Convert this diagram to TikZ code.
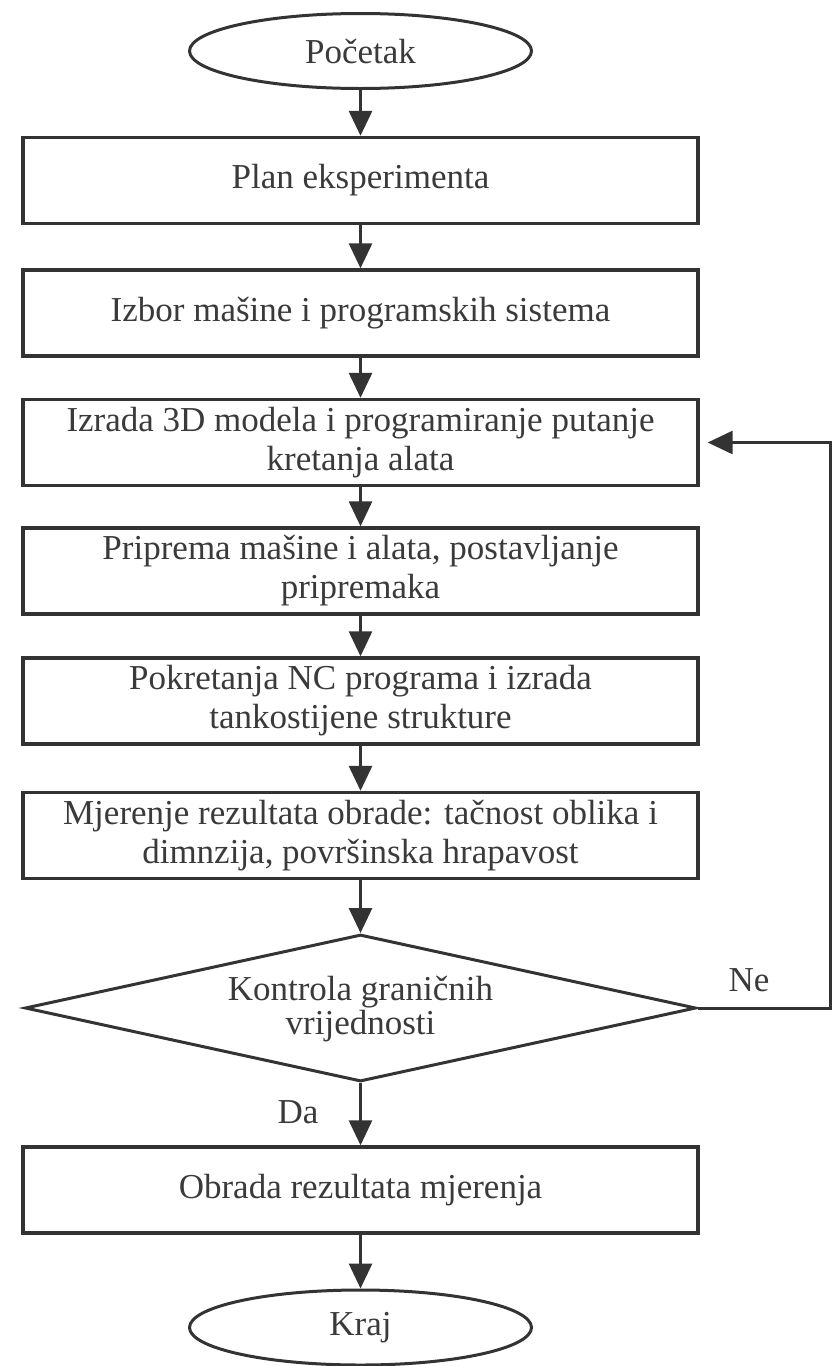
\documentclass[tikz,border=0pt]{standalone}
\usepackage{fontspec}
\setmainfont{Liberation Serif}
\usetikzlibrary{shapes.geometric,arrows.meta}
\definecolor{ln}{HTML}{333333}
\definecolor{tx}{HTML}{3A3A3A}
\begin{document}
\begin{tikzpicture}[x=0.5pt,y=-0.5pt,
  every node/.style={text=tx,font=\fontsize{17.5}{19.5}\selectfont},
  procbox/.style={draw=ln,line width=1.7pt,rectangle,minimum width=337.5pt,minimum height=43pt,inner sep=0pt,align=center},
  term/.style={draw=ln,line width=1.5pt,ellipse,minimum width=171pt,minimum height=37.5pt,inner sep=0pt},
  decis/.style={draw=ln,line width=1.5pt,diamond,minimum width=335.5pt,minimum height=73.5pt,inner sep=0pt},
  arr/.style={draw=ln,line width=1.5pt,-{Triangle[length=12.5pt,width=11.5pt]}},
  lbl/.style={inner sep=0pt}]
\useasboundingbox (0,0) rectangle (836,1366);
\node[term] (start) at (360.5,51) {Početak};
\node[procbox] (plan) at (360.5,180.5) {Plan eksperimenta};
\node[procbox] (izbor) at (360.5,313) {Izbor mašine i programskih sistema};
\node[procbox] (izrada) at (360.5,442.5) {Izrada 3D modela i programiranje putanje\\kretanja alata};
\node[procbox] (priprema) at (360.5,571) {Priprema mašine i alata, postavljanje\\pripremaka};
\node[procbox] (pokret) at (360.5,701) {Pokretanja NC programa i izrada\\tankostijene strukture};
\node[procbox] (mjer) at (360.5,835.5) {Mjerenje rezultata obrade: tačnost oblika i\\dimnzija, površinska hrapavost};
\node[decis] (dia) at (360.5,1008) {\smash{\makebox[0pt]{\raisebox{-5.5pt}{\renewcommand\arraystretch{0.85}\begin{tabular}{@{}c@{}}Kontrola graničnih\\vrijednosti\end{tabular}}}}};
\node[procbox] (obrada) at (360.5,1190) {Obrada rezultata mjerenja};
\node[term] (kraj) at (360.5,1327.5) {Kraj};
\node[lbl] (da) at (298,1112) {Da};
\node[lbl] (ne) at (749,980) {Ne};
\coordinate (fb) at (830,442.5);
\draw[arr] (start.south) -- (plan.north);
\draw[arr] (plan.south) -- (izbor.north);
\draw[arr] (izbor.south) -- (izrada.north);
\draw[arr] (izrada.south) -- (priprema.north);
\draw[arr] (priprema.south) -- (pokret.north);
\draw[arr] (pokret.south) -- (mjer.north);
\draw[arr] (mjer.south) -- (dia.north);
\draw[arr] (dia.south) -- (obrada.north);
\draw[arr] (obrada.south) -- (kraj.north);
\draw[arr,shorten >=4pt] (dia.east) -| (fb) -- (izrada.east);
\end{tikzpicture}
\end{document}
